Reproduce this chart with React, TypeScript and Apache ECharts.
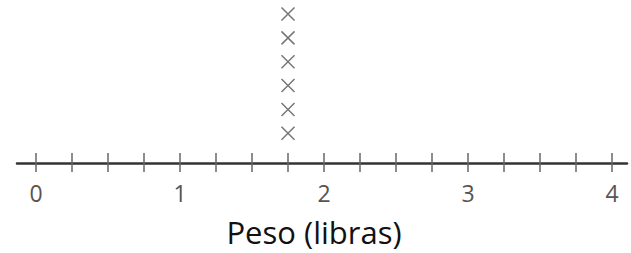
import React, { useEffect, useRef } from "react";
import * as echarts from "echarts";

const pesoValues = [1.75, 1.75, 1.75, 1.75, 1.75, 1.75];
const tickLabels = ["0", "1", "2", "3", "4"];
const axisMin = 0;
const axisMax = 4;
const tickStep = 0.25;
const axisTitle = "Peso (libras)";

export default function App() {
  const ref = useRef<HTMLDivElement>(null);
  useEffect(() => {
    if (!ref.current) return;
    const chart = echarts.init(ref.current, null, { renderer: "svg" });
    const counts: Record<string, number> = {};
    const points = pesoValues.map((v) => {
      const k = String(v);
      counts[k] = (counts[k] || 0) + 1;
      return [v, counts[k]];
    });
    const font = "'Open Sans', 'Noto Sans', sans-serif";
    chart.setOption({
      animation: false,
      grid: [
        { left: 17, right: 4, top: 14, bottom: 90 },
        { left: 36, right: 19, top: 14, bottom: 90 },
      ],
      xAxis: [
        {
          gridIndex: 0,
          type: "value",
          min: -0.132,
          max: 4.104,
          axisLine: { show: true, onZero: false, lineStyle: { color: "#333", width: 2.5 } },
          axisTick: { show: false },
          axisLabel: { show: false },
          splitLine: { show: false },
        },
        {
          gridIndex: 1,
          type: "value",
          min: axisMin,
          max: axisMax,
          interval: tickStep,
          offset: -10,
          axisLine: { show: false, onZero: false },
          axisTick: {
            show: true,
            length: 19,
            lineStyle: { color: "#666", width: 1.5 },
          },
          axisLabel: {
            show: true,
            margin: 28,
            fontSize: 23,
            fontFamily: font,
            color: "#555",
            formatter: (v: number) =>
              Number.isInteger(v) ? tickLabels[v] ?? "" : "",
          },
          splitLine: { show: false },
        },
      ],
      yAxis: [
        { gridIndex: 0, type: "value", min: -0.245, max: 6, show: false },
        { gridIndex: 1, type: "value", min: -0.245, max: 6, show: false },
      ],
      graphic: [
        {
          type: "text",
          x: 314,
          y: 232,
          style: {
            text: axisTitle,
            font: `31px ${font}`,
            fill: "#111",
            align: "center",
            verticalAlign: "middle",
          },
        },
      ],
      series: [
        {
          type: "scatter",
          xAxisIndex: 1,
          yAxisIndex: 1,
          data: points,
          symbol: "path://M0,0L10,10M10,0L0,10",
          symbolSize: 13,
          itemStyle: {
            color: "transparent",
            borderColor: "#555",
            borderWidth: 1.5,
          },
        },
      ],
    });
    return () => chart.dispose();
  }, []);
  return (
    <div
      ref={ref}
      style={{ position: "fixed", left: 0, top: 0, width: 631, height: 253, background: "#fff" }}
    />
  );
}
